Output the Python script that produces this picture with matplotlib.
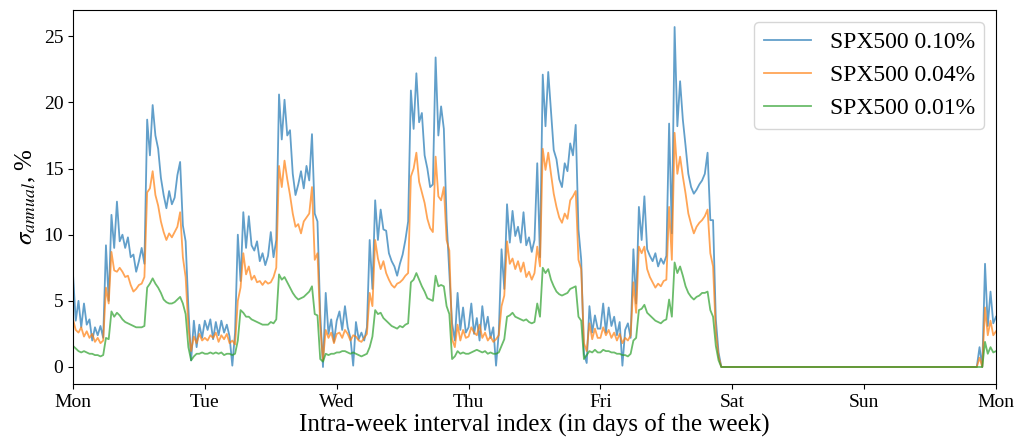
import numpy as np
import matplotlib
matplotlib.use("Agg")
import matplotlib.pyplot as plt

plt.rcParams["font.family"] = ["Liberation Serif", "DejaVu Serif"]
plt.rcParams["mathtext.fontset"] = "stix"

day_labels = ["Mon", "Tue", "Wed", "Thu", "Fri", "Sat", "Sun", "Mon"]
series_labels = ["SPX500 0.10%", "SPX500 0.04%", "SPX500 0.01%"]

# half-hour readings, Mon 00:00 .. Fri 21:30
b_mon = [7.0, 3.5, 5.0, 3.0, 4.8, 3.2, 3.6, 2.0, 3.0, 2.4, 3.1, 2.2,
         9.2, 5.0, 11.5, 9.0, 12.5, 9.5, 10.0, 9.0, 9.8, 8.3, 8.5, 7.2, 8.0, 9.0, 7.8,
         18.7, 16.0, 19.8, 17.5, 16.5, 14.3, 13.0, 12.0, 13.3, 12.3, 12.8, 14.5, 15.5,
         10.7, 9.5, 4.5, 0.5, 3.5, 1.5, 3.2, 2.2]
b_tue = [3.5, 2.8, 3.6, 2.1, 3.4, 2.4, 3.5, 2.6, 3.2, 2.3, 0.1, 2.6,
         10.0, 6.5, 11.7, 9.0, 11.4, 9.2, 8.8, 9.5, 8.0, 8.6, 7.7, 8.4, 10.2, 8.3, 9.6,
         20.6, 17.2, 20.2, 17.5, 17.9, 14.6, 13.0, 13.8, 14.8, 13.5, 15.2, 14.1, 17.6,
         11.6, 11.0, 4.0, 0.0, 5.6, 2.5, 3.6, 1.9]
b_wed = [3.5, 4.2, 2.8, 4.6, 3.0, 2.2, 0.1, 3.4, 2.1, 2.6, 2.0, 3.0,
         9.6, 5.9, 12.6, 9.6, 11.9, 10.4, 10.3, 8.6, 8.0, 7.6, 6.9, 7.8, 8.5, 9.6, 11.0,
         20.9, 18.0, 22.2, 18.5, 19.2, 16.0, 15.0, 13.6, 13.8, 23.4, 17.5, 19.7, 18.0,
         11.1, 7.1, 3.3, 2.0, 5.6, 2.8, 4.5, 2.6]
b_thu = [3.0, 4.8, 2.5, 3.7, 2.0, 4.6, 2.8, 3.8, 2.2, 3.0, 0.1, 2.6,
         8.9, 5.9, 12.3, 9.4, 11.8, 9.9, 10.6, 9.4, 11.7, 9.2, 9.8, 8.7, 9.6, 15.4, 8.3,
         22.1, 18.2, 22.3, 19.4, 16.4, 15.7, 14.2, 13.6, 15.4, 14.8, 16.9, 16.0, 18.3,
         10.4, 8.1, 1.0, 0.3, 4.6, 2.6, 3.9, 2.9]
b_fri = [2.9, 4.8, 2.6, 4.5, 3.1, 3.8, 2.4, 3.4, 0.1, 2.8, 3.3, 2.2,
         8.9, 4.8, 12.1, 9.6, 12.9, 8.9, 8.4, 8.0, 8.6, 7.6, 8.2, 7.8, 8.4, 18.4, 10.1,
         25.7, 18.2, 21.6, 18.7, 16.7, 14.6, 13.6, 13.1, 13.4, 13.8, 14.1, 14.6, 16.2,
         11.1, 11.1, 3.6, 1.1]

o_mon = [3.6, 2.8, 2.6, 3.0, 2.3, 2.7, 2.2, 2.5, 1.9, 2.2, 1.8, 2.0,
         6.0, 4.8, 8.7, 7.3, 7.2, 7.5, 7.2, 6.8, 6.9, 6.2, 5.7, 5.9, 6.2, 6.3, 6.8,
         13.2, 13.5, 14.8, 13.0, 12.2, 11.0, 10.2, 9.6, 10.1, 9.8, 10.2, 10.6, 11.7,
         8.3, 6.8, 3.0, 1.2, 2.3, 1.8, 2.5, 2.0]
o_tue = [2.2, 2.0, 2.4, 2.2, 2.6, 1.9, 2.4, 2.1, 2.5, 1.8, 2.0, 1.7,
         5.0, 6.0, 8.6, 7.0, 7.6, 6.6, 6.9, 6.4, 6.5, 6.2, 6.5, 6.3, 6.4, 6.8, 7.5,
         15.2, 13.6, 15.6, 14.2, 13.0, 11.6, 10.6, 10.8, 10.1, 11.0, 11.3, 11.6, 13.6,
         8.1, 8.6, 3.1, 0.5, 2.8, 2.2, 2.6, 1.8]
o_wed = [2.5, 2.6, 2.2, 2.8, 2.5, 2.0, 2.4, 2.3, 2.0, 1.9, 2.2, 2.5,
         5.6, 4.6, 9.6, 8.2, 7.4, 8.0, 7.1, 6.6, 6.2, 6.0, 6.3, 6.4, 6.6, 6.9, 7.1,
         14.4, 15.0, 16.2, 14.0, 13.2, 12.4, 11.2, 10.5, 10.2, 15.9, 12.9, 12.6, 13.6,
         9.6, 8.8, 2.1, 1.5, 3.2, 2.0, 2.8, 2.2]
o_thu = [2.3, 3.0, 2.6, 2.4, 3.2, 2.2, 2.6, 2.0, 2.3, 1.9, 2.1, 2.4,
         4.6, 5.4, 9.5, 7.8, 8.2, 7.4, 8.0, 7.2, 7.9, 6.8, 7.2, 6.6, 7.1, 9.1, 7.6,
         16.5, 14.9, 16.2, 14.6, 13.1, 12.1, 11.3, 10.9, 11.6, 11.2, 12.6, 12.9, 13.3,
         8.1, 7.4, 1.8, 1.2, 3.3, 2.1, 2.9, 2.2]
o_fri = [2.2, 3.0, 2.4, 2.8, 2.2, 2.6, 2.0, 2.5, 1.8, 2.2, 2.0, 2.4,
         6.4, 4.1, 9.1, 8.6, 9.1, 7.4, 6.8, 6.4, 6.0, 6.3, 6.1, 6.5, 6.6, 12.1, 8.1,
         17.7, 14.6, 15.9, 14.4, 13.1, 11.6, 10.8, 10.1, 10.6, 10.9, 11.1, 11.4, 11.9,
         8.6, 7.6, 2.6, 0.8]

g_mon = [1.6, 1.4, 1.2, 1.1, 1.2, 1.1, 1.0, 1.0, 0.9, 0.9, 0.8, 0.9,
         2.2, 2.1, 4.2, 3.8, 4.1, 3.9, 3.6, 3.4, 3.3, 3.2, 3.1, 3.0, 3.0, 3.0, 3.1,
         6.0, 6.3, 6.7, 6.3, 6.0, 5.6, 5.1, 4.9, 4.8, 4.8, 4.9, 5.1, 5.3,
         4.8, 4.0, 1.5, 0.5, 0.8, 1.0, 1.0, 1.1]
g_tue = [1.0, 1.0, 1.1, 1.0, 1.1, 1.0, 1.1, 0.9, 1.0, 1.0, 0.9, 1.0,
         2.0, 4.3, 4.1, 3.8, 3.8, 3.6, 3.5, 3.4, 3.3, 3.2, 3.2, 3.2, 3.4, 3.3, 3.6,
         7.0, 6.6, 6.8, 6.4, 6.0, 5.6, 5.3, 5.1, 5.2, 5.3, 5.5, 5.7, 6.1,
         4.0, 3.9, 0.6, 0.4, 1.0, 0.9, 1.0, 1.0]
g_wed = [1.1, 1.1, 1.2, 1.2, 1.1, 1.0, 1.1, 1.0, 0.9, 0.8, 0.9, 1.0,
         1.5, 2.3, 4.3, 4.0, 4.1, 3.7, 3.5, 3.3, 3.1, 3.0, 2.9, 3.1, 3.0, 3.2, 3.3,
         6.4, 6.6, 7.1, 6.6, 6.1, 5.7, 5.2, 5.1, 5.0, 6.9, 6.1, 6.2, 6.1,
         4.6, 4.0, 0.6, 0.8, 1.2, 1.0, 1.1, 1.0]
g_thu = [1.0, 1.1, 1.2, 1.3, 1.2, 1.1, 1.2, 1.0, 1.1, 1.0, 1.0, 1.1,
         1.6, 2.1, 3.8, 3.9, 4.1, 3.8, 3.7, 3.6, 3.5, 3.6, 3.4, 3.3, 3.4, 4.8, 3.8,
         7.5, 7.1, 7.4, 6.6, 6.1, 5.7, 5.5, 5.4, 5.5, 5.6, 5.9, 6.0, 6.1,
         3.8, 3.5, 0.6, 0.9, 1.2, 1.1, 1.3, 1.1]
g_fri = [1.1, 1.3, 1.2, 1.2, 1.1, 1.1, 1.0, 1.0, 0.9, 0.9, 0.8, 1.0,
         2.0, 2.2, 4.3, 4.4, 4.7, 4.1, 3.9, 3.7, 3.5, 3.4, 3.3, 3.5, 3.6, 5.1, 3.8,
         7.9, 7.1, 7.6, 6.9, 6.1, 5.6, 5.3, 5.1, 5.3, 5.4, 5.6, 5.6, 5.7,
         4.3, 3.8, 1.6, 0.5]

# weekend break and Sunday evening re-open (hours from Monday 00:00)
tail_hours = [118.0, 164.5, 165.0, 165.5, 166.0, 166.5, 167.0, 167.5, 168.0]
b_tail = [0.0, 0.0, 1.5, 0.0, 7.8, 3.1, 5.7, 3.3, 3.8]
o_tail = [0.0, 0.0, 0.7, 0.0, 4.5, 2.4, 3.5, 2.4, 2.7]
g_tail = [0.0, 0.0, 0.0, 0.0, 1.9, 1.0, 1.5, 1.1, 1.2]

blue = b_mon + b_tue + b_wed + b_thu + b_fri + b_tail
orange = o_mon + o_tue + o_wed + o_thu + o_fri + o_tail
green = g_mon + g_tue + g_wed + g_thu + g_fri + g_tail

n_week = len(b_mon + b_tue + b_wed + b_thu + b_fri)
hours = list(np.arange(n_week) * 0.5) + tail_hours
days = np.array(hours) / 24.0

fig = plt.figure(figsize=(10.18, 4.43), dpi=100)
ax = fig.add_axes([0.0717, 0.1332, 0.9067, 0.8442])

ax.plot(days, blue, color="tab:blue", alpha=0.7, lw=1.3, label=series_labels[0])
ax.plot(days, orange, color="tab:orange", alpha=0.7, lw=1.3, label=series_labels[1])
ax.plot(days, green, color="tab:green", alpha=0.7, lw=1.3, label=series_labels[2])

ax.set_xlim(0, 7)
ax.set_xticks(range(8))
ax.set_xticklabels(day_labels)
ax.set_yticks([0, 5, 10, 15, 20, 25])
ax.tick_params(labelsize=14)

ax.set_xlabel("Intra-week interval index (in days of the week)", fontsize=18, labelpad=2)
ax.set_ylabel(r"$\sigma_{annual}$, %", fontsize=18, labelpad=4)

ax.legend(loc="upper right", fontsize=17, handlelength=2.0)

fig.savefig("out.png", dpi=100)
